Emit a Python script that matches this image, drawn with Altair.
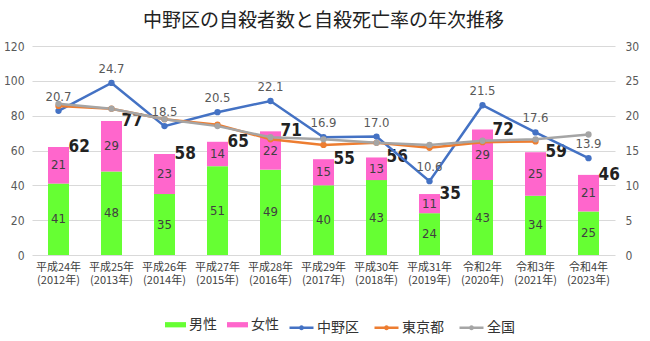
import altair as alt
import pandas as pd

categories = ["平成24年|(2012年)", "平成25年|(2013年)", "平成26年|(2014年)",
              "平成27年|(2015年)", "平成28年|(2016年)", "平成29年|(2017年)",
              "平成30年|(2018年)", "平成31年|(2019年)", "令和2年|(2020年)",
              "令和3年|(2021年)", "令和4年|(2023年)"]
male = [41, 48, 35, 51, 49, 40, 43, 24, 43, 34, 25]
female = [21, 29, 23, 14, 22, 15, 13, 11, 29, 25, 21]
totals = [62, 77, 58, 65, 71, 55, 56, 35, 72, 59, 46]
nakano = [20.7, 24.7, 18.5, 20.5, 22.1, 16.9, 17.0, 10.6, 21.5, 17.6, 13.9]
tokyo = [21.4, 21.0, 19.5, 18.7, 16.6, 15.8, 16.1, 15.4, 16.2, 16.3, None]
zenkoku = [21.7, 21.0, 19.5, 18.5, 16.9, 16.6, 16.1, 15.8, 16.4, 16.6, 17.3]

left_ticks = [0, 20, 40, 60, 80, 100, 120]
right_ticks = [0, 5, 10, 15, 20, 25, 30]

sexes = ["男性", "女性"]
regions = ["中野区", "東京都", "全国"]

bar_rows = []
for i, c in enumerate(categories):
    bar_rows.append({"cat": c, "sex": "男性", "order": 0, "value": male[i]})
    bar_rows.append({"cat": c, "sex": "女性", "order": 1, "value": female[i]})
bars_df = pd.DataFrame(bar_rows)
tot_df = pd.DataFrame({"cat": categories, "total": totals})

line_rows = []
for name, vals in zip(regions, [nakano, tokyo, zenkoku]):
    for c, v in zip(categories, vals):
        if v is not None:
            line_rows.append({"cat": c, "region": name, "rate": v})
lines_df = pd.DataFrame(line_rows)

NUM_FONT = "Liberation Sans Narrow, DejaVu Sans Condensed, sans-serif"
JP_FONT = "Noto Sans CJK JP"

x_axis = alt.Axis(labelExpr="split(datum.label, '|')", labelAngle=0,
                  labelFont=JP_FONT, labelFontSize=11, labelColor="#404040",
                  labelPadding=6, ticks=False, domain=False, labelLineHeight=13,
                  labelOverlap=False, title=None)
x_scale = alt.Scale(paddingInner=0, paddingOuter=0)


def xe():
    return alt.X("cat:N", sort=categories, title=None, scale=x_scale, axis=x_axis)


left_axis = alt.Axis(values=left_ticks, labelFont=NUM_FONT, labelOverlap=False,
                     labelFontSize=12, labelColor="#595959", ticks=False, title=None,
                     domain=False, gridColor="#d9d9d9", labelPadding=8)
left_scale = alt.Scale(domain=[0, 120])

right_axis = alt.Axis(orient="right", values=right_ticks, grid=False, labelOverlap=False,
                      labelFont=NUM_FONT, labelFontSize=12, labelColor="#595959", title=None,
                      ticks=False, domain=False, labelPadding=10)
right_scale = alt.Scale(domain=[0, 30])

bars = alt.Chart(bars_df).mark_bar(size=21).encode(
    x=xe(),
    y=alt.Y("value:Q", stack="zero", title=None, scale=left_scale, axis=left_axis),
    color=alt.Color("sex:N", scale=alt.Scale(domain=sexes, range=["#66FF33", "#FF66CC"]),
                    legend=alt.Legend(orient="none", legendX=133, legendY=268, direction="horizontal",
                                      title=None, columns=2, symbolType="M-1,-0.25H1V0.25H-1Z",
                                      symbolSize=441, symbolStrokeWidth=0, labelFont=JP_FONT,
                                      labelFontSize=14, labelColor="#333333", labelOffset=3,
                                      columnPadding=10, padding=0)),
    order=alt.Order("order:Q"),
)

seg_text = alt.Chart(bars_df).transform_stack(
    stack="value", as_=["y0", "y1"], groupby=["cat"], sort=[alt.SortField("order")]
).transform_calculate(mid="(datum.y0 + datum.y1) / 2").mark_text(
    font=NUM_FONT, fontSize=13, color="#404040"
).encode(
    x=xe(),
    y=alt.Y("mid:Q", title=None, scale=left_scale, axis=left_axis),
    text=alt.Text("value:Q"),
)

tot_text = alt.Chart(tot_df).mark_text(
    font=NUM_FONT, fontSize=17, fontWeight="bold", color="#222222", align="left",
    baseline="middle", dx=10
).encode(
    x=xe(),
    y=alt.Y("total:Q", title=None, scale=left_scale, axis=left_axis),
    text=alt.Text("total:Q"),
)

left_layer = alt.layer(bars, seg_text, tot_text)

line_path = "M-1,0H1M-0.1,0a0.1,0.1 0 1,0 0.2,0a0.1,0.1 0 1,0 -0.2,0"
color_lines = alt.Color("region:N", scale=alt.Scale(domain=regions,
                                                    range=["#4472C4", "#ED7D31", "#A5A5A5"]),
                        legend=alt.Legend(orient="none", legendX=256, legendY=268,
                                          direction="horizontal", title=None, columns=3,
                                          symbolType=line_path, symbolSize=576,
                                          symbolStrokeWidth=2.5, labelFont=JP_FONT,
                                          labelFontSize=14, labelColor="#333333", labelOffset=2,
                                          columnPadding=10, padding=0))


def yr():
    return alt.Y("rate:Q", title=None, scale=right_scale, axis=right_axis)


lines = alt.Chart(lines_df).mark_line(strokeWidth=2.5).encode(
    x=xe(), y=yr(), color=color_lines,
)

pts = alt.Chart(lines_df).mark_circle(size=40, opacity=1).encode(
    x=xe(), y=yr(), color=color_lines,
)

rate_text = alt.Chart(lines_df).transform_filter("datum.region == '中野区'").mark_text(
    font=NUM_FONT, fontSize=13, color="#595959", dy=-14
).encode(
    x=xe(), y=yr(),
    text=alt.Text("rate:Q", format=".1f"),
)

right_layer = alt.layer(lines, pts, rate_text)

chart = alt.layer(left_layer, right_layer).resolve_scale(
    y="independent", color="independent"
).properties(
    width=583, height=209,
    title=alt.TitleParams("中野区の自殺者数と自殺死亡率の年次推移", font=JP_FONT, fontSize=19,
                          fontWeight="normal", color="#222222", anchor="middle", offset=9),
    autosize=alt.AutoSizeParams(type="none"),
    padding={"left": 32, "top": 46, "right": 35, "bottom": 86},
    background="white",
).configure_view(stroke=None)

chart.save("out.html", embed_options={"renderer": "svg", "actions": False})
